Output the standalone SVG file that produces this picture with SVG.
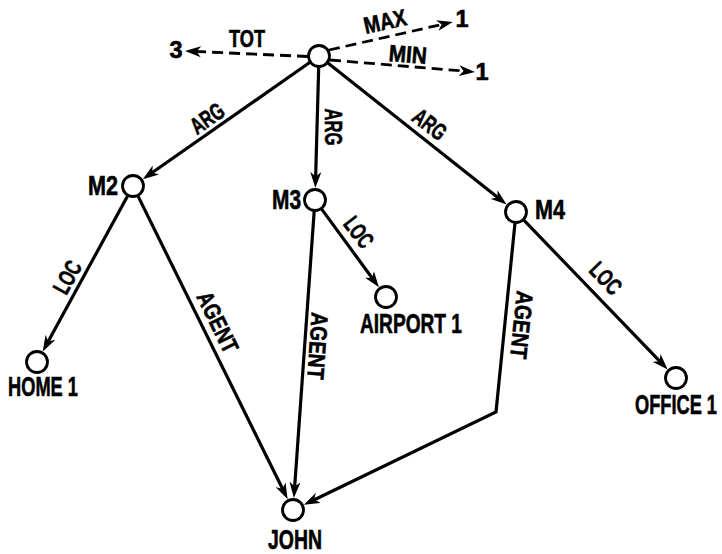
<svg xmlns="http://www.w3.org/2000/svg" width="722" height="554" viewBox="0 0 722 554">
<style>
  .node { fill: #fff; stroke: #000; stroke-width: 2.8; }
  .edge { fill: none; stroke: #000; stroke-width: 3.2; marker-end: url(#arr); }
  .dash { fill: none; stroke: #000; stroke-width: 2.8; stroke-dasharray: 11 6; marker-end: url(#arr); }
  text { font-family: "Liberation Sans", Arial, sans-serif; font-weight: bold; fill: #000; stroke: #000; stroke-width: 0.6; }
  .nl { font-size: 27px; }
  .el { font-size: 23.5px; }
</style>
<defs>
  <marker id="arr" viewBox="0 0 16 11" refX="10" refY="5.5" markerWidth="16" markerHeight="11" markerUnits="userSpaceOnUse" orient="auto">
    <path d="M0,0 L16,5.5 L0,11 L4.5,5.5 Z" fill="#000"/>
  </marker>
</defs>
<rect width="722" height="554" fill="#fff"/>

<g id="connectors">
  <line class="dash" x1="308" y1="56.5" x2="191" y2="51.3"/>
  <line class="dash" x1="329" y1="50" x2="447" y2="23.3"/>
  <line class="dash" x1="330" y1="60" x2="469" y2="71.5"/>
  <line class="edge" x1="310" y1="62.3" x2="147.7" y2="175.7"/>
  <line class="edge" x1="318.7" y1="67" x2="315.5" y2="182"/>
  <line class="edge" x1="327.6" y1="62.8" x2="501.9" y2="200.8"/>
  <line class="edge" x1="127.7" y1="195.7" x2="45.6" y2="346.2"/>
  <line class="edge" x1="137.9" y1="195.9" x2="285" y2="493.8"/>
  <line class="edge" x1="321.5" y1="208.9" x2="375.4" y2="282.5"/>
  <line class="edge" x1="314.2" y1="211" x2="294.3" y2="492"/>
  <line class="edge" x1="523.6" y1="219.9" x2="663.5" y2="365.1"/>
  <polyline class="edge" points="515,223 496,412 309.2,502.2"/>

  <text class="el" x="247" y="47" text-anchor="middle" textLength="36" lengthAdjust="spacingAndGlyphs">TOT</text>
  <text class="el" transform="translate(385,21) rotate(-12.5)" x="0" y="8.5" text-anchor="middle" textLength="43" lengthAdjust="spacingAndGlyphs">MAX</text>
  <text class="el" transform="translate(408,54) rotate(4.7)" x="0" y="8.5" text-anchor="middle" textLength="38" lengthAdjust="spacingAndGlyphs">MIN</text>
  <text class="el" x="176" y="58" text-anchor="middle">3</text>
  <text class="el" x="462" y="27" text-anchor="middle">1</text>
  <text class="el" x="482" y="80" text-anchor="middle">1</text>
  <text class="el" transform="translate(207,118) rotate(-34.4)" x="0" y="8.5" text-anchor="middle" textLength="36" lengthAdjust="spacingAndGlyphs">ARG</text>
  <text class="el" transform="translate(333,127) rotate(90)" x="0" y="8.5" text-anchor="middle" textLength="37" lengthAdjust="spacingAndGlyphs">ARG</text>
  <text class="el" transform="translate(430,124) rotate(37.8)" x="0" y="8.5" text-anchor="middle" textLength="36" lengthAdjust="spacingAndGlyphs">ARG</text>
  <text class="el" transform="translate(67,277) rotate(-61)" x="0" y="8.5" text-anchor="middle" textLength="34" lengthAdjust="spacingAndGlyphs">LOC</text>
  <text class="el" transform="translate(359,232) rotate(52)" x="0" y="8.5" text-anchor="middle" textLength="33" lengthAdjust="spacingAndGlyphs">LOC</text>
  <text class="el" transform="translate(606,278) rotate(46)" x="0" y="8.5" text-anchor="middle" textLength="35" lengthAdjust="spacingAndGlyphs">LOC</text>
  <text class="el" transform="translate(218,322) rotate(64)" x="0" y="8.5" text-anchor="middle" textLength="65" lengthAdjust="spacingAndGlyphs">AGENT</text>
  <text class="el" transform="translate(318,346) rotate(94)" x="0" y="8.5" text-anchor="middle" textLength="67" lengthAdjust="spacingAndGlyphs">AGENT</text>
  <text class="el" transform="translate(522,325) rotate(96)" x="0" y="8.5" text-anchor="middle" textLength="68" lengthAdjust="spacingAndGlyphs">AGENT</text>
</g>

<g id="n-top"><circle class="node" cx="319" cy="56" r="10.5"/></g>
<g id="n-m2"><circle class="node" cx="133" cy="186" r="10.5"/>
  <text class="nl" x="88" y="195" textLength="30" lengthAdjust="spacingAndGlyphs">M2</text></g>
<g id="n-m3"><circle class="node" cx="315" cy="200" r="10.5"/>
  <text class="nl" x="272" y="209" textLength="29" lengthAdjust="spacingAndGlyphs">M3</text></g>
<g id="n-m4"><circle class="node" cx="516" cy="212" r="10.5"/>
  <text class="nl" x="535" y="219" textLength="30" lengthAdjust="spacingAndGlyphs">M4</text></g>
<g id="n-home"><circle class="node" cx="37" cy="362" r="10.5"/>
  <text class="nl" x="8" y="396" textLength="70" lengthAdjust="spacingAndGlyphs">HOME 1</text></g>
<g id="n-airport"><circle class="node" cx="386" cy="297" r="10.5"/>
  <text class="nl" x="360" y="333" textLength="102" lengthAdjust="spacingAndGlyphs">AIRPORT 1</text></g>
<g id="n-office"><circle class="node" cx="676" cy="378" r="10.5"/>
  <text class="nl" x="676" y="414" text-anchor="middle" font-size="25" textLength="82" lengthAdjust="spacingAndGlyphs">OFFICE 1</text></g>
<g id="n-john"><circle class="node" cx="293" cy="510" r="10.5"/>
  <text class="nl" x="268" y="549" textLength="54" lengthAdjust="spacingAndGlyphs">JOHN</text></g>
</svg>
